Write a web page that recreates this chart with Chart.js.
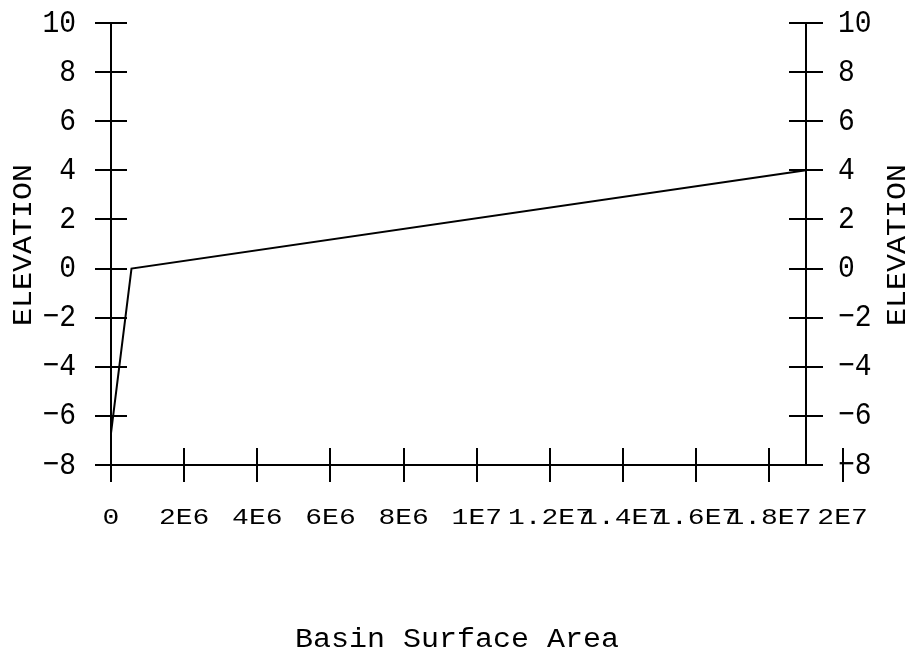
<!DOCTYPE html>
<html>
<head>
  <title>Basin Surface Area</title>
  <script src="https://cdn.jsdelivr.net/npm/chart.js"></script>
  <style>
    body { margin: 0; background: #fff; }
    #wrap { width: 907px; height: 656px; }
  </style>
</head>
<body>
  <div id="wrap"><canvas id="chart" width="907" height="656"></canvas></div>
  <script>
    // data
    var areaValues = [0, 560000, 19000000];
    var elevationValues = [-6.7, 0, 4];

    var yTicks = [-8, -6, -4, -2, 0, 2, 4, 6, 8, 10];
    var yTickLabels = ['\u22128', '\u22126', '\u22124', '\u22122', '0', '2', '4', '6', '8', '10'];
    var xTicks = [0, 2e6, 4e6, 6e6, 8e6, 1e7, 1.2e7, 1.4e7, 1.6e7, 1.8e7, 2e7];
    var xTickLabels = ['0', '2E6', '4E6', '6E6', '8E6', '1E7', '1.2E7', '1.4E7', '1.6E7', '1.8E7', '2E7'];

    var points = [];
    for (var i = 0; i < areaValues.length; i++) {
      points.push({ x: areaValues[i], y: elevationValues[i] });
    }

    function drawText(ctx, text, x, y, size, sy, align) {
      ctx.save();
      ctx.translate(x, y);
      ctx.scale(1, sy);
      ctx.font = size + 'px "Liberation Mono", "Courier New", monospace';
      ctx.textAlign = align;
      ctx.textBaseline = 'middle';
      ctx.fillText(text, 0, 0);
      ctx.restore();
    }

    var axesPlugin = {
      id: 'axesPlugin',
      afterDraw: function (chart) {
        var ctx = chart.ctx;
        var xs = chart.scales.x;
        var ys = chart.scales.y;
        var left = chart.chartArea.left;
        var right = chart.chartArea.right;
        var top = chart.chartArea.top;
        var bottom = chart.chartArea.bottom;

        ctx.save();
        ctx.strokeStyle = '#000';
        ctx.fillStyle = '#000';
        ctx.lineWidth = 2;

        ctx.beginPath();
        ctx.moveTo(left, top);
        ctx.lineTo(left, bottom);
        ctx.moveTo(right, top);
        ctx.lineTo(right, bottom);
        ctx.moveTo(left - 16, bottom);
        ctx.lineTo(right + 16, bottom);

        // y ticks cross both vertical axes
        for (var i = 0; i < yTicks.length; i++) {
          var py = Math.round(ys.getPixelForValue(yTicks[i]));
          ctx.moveTo(left - 16, py);
          ctx.lineTo(left + 16, py);
          ctx.moveTo(right - 17, py);
          ctx.lineTo(right + 17, py);
        }
        // x ticks cross the bottom axis
        for (var j = 0; j < xTicks.length; j++) {
          var px = Math.round(xs.getPixelForValue(xTicks[j]));
          ctx.moveTo(px, bottom - 17);
          ctx.lineTo(px, bottom + 17);
        }
        ctx.stroke();

        for (var k = 0; k < yTicks.length; k++) {
          var ty = ys.getPixelForValue(yTicks[k]);
          drawText(ctx, yTickLabels[k], left - 35, ty, 28, 1.15, 'right');
          drawText(ctx, yTickLabels[k], right + 32, ty, 28, 1.15, 'left');
        }
        for (var m = 0; m < xTicks.length; m++) {
          var tx = xs.getPixelForValue(xTicks[m]);
          drawText(ctx, xTickLabels[m], tx, bottom + 53, 28, 0.8, 'center');
        }

        drawText(ctx, 'Basin Surface Area', 457, 640, 30, 0.9, 'center');

        ctx.save();
        ctx.translate(23, 245);
        ctx.rotate(-Math.PI / 2);
        drawText(ctx, 'ELEVATION', 0, 0, 30, 0.95, 'center');
        ctx.restore();

        ctx.save();
        ctx.translate(897, 245);
        ctx.rotate(-Math.PI / 2);
        drawText(ctx, 'ELEVATION', 0, 0, 30, 0.95, 'center');
        ctx.restore();

        ctx.restore();
      }
    };

    new Chart(document.getElementById('chart').getContext('2d'), {
      type: 'scatter',
      data: {
        datasets: [{
          data: points,
          showLine: true,
          borderColor: '#000',
          borderWidth: 2,
          pointRadius: 0,
          tension: 0,
          clip: false
        }]
      },
      options: {
        responsive: false,
        animation: false,
        layout: { padding: { left: 111, right: 101, top: 23, bottom: 191 } },
        plugins: { legend: { display: false }, tooltip: { enabled: false } },
        scales: {
          x: { type: 'linear', min: 0, max: 1.9e7, display: false },
          y: { type: 'linear', min: -8, max: 10, display: false }
        }
      },
      plugins: [axesPlugin]
    });
  </script>
</body>
</html>
